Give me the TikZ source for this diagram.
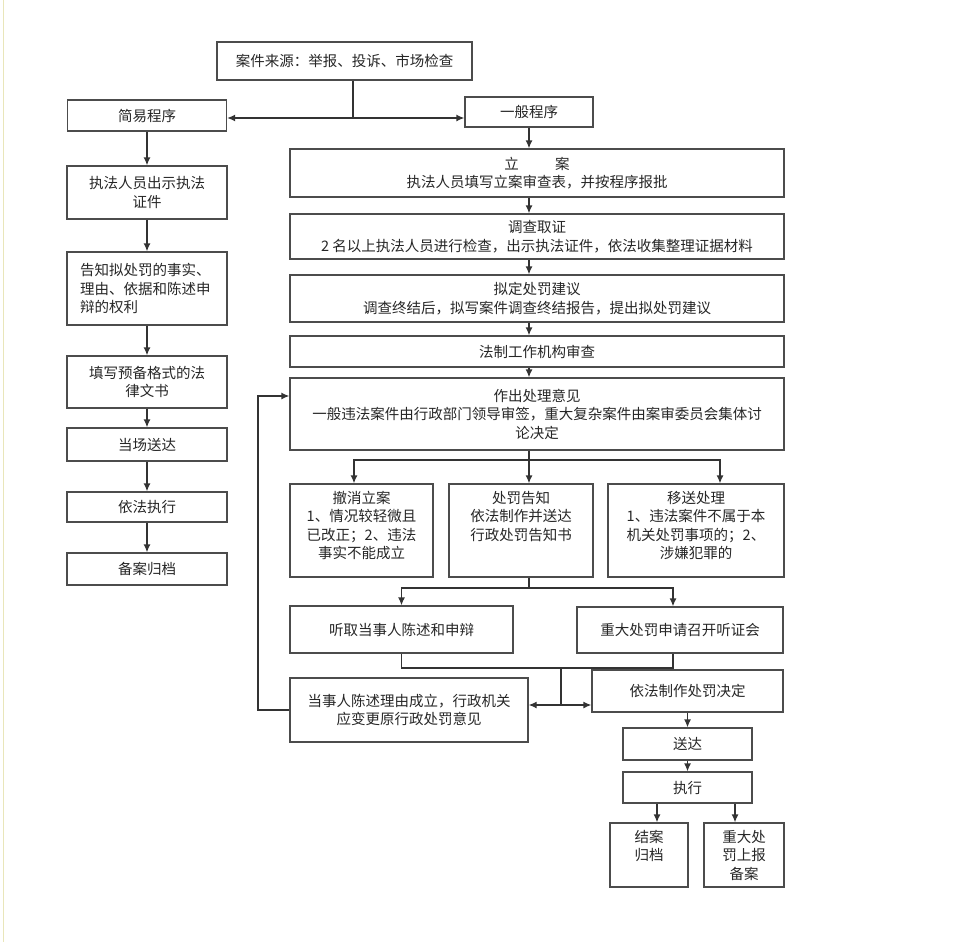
\documentclass[tikz,border=0pt]{standalone}
\usepackage{fontspec}
\newfontfamily\cjk{Noto Sans CJK SC}
\usetikzlibrary{arrows.meta}

\begin{document}
\begin{tikzpicture}[x=1pt, y=-1pt,
  box/.style={draw=black!70, line width=1.3pt, rectangle, inner sep=0pt, align=center,
    text=black!85, font=\cjk\fontsize{14.5}{18.5}\selectfont},
  line/.style={draw=black!80, line width=1.3pt},
  arr/.style={line, -{Latex[length=8pt,width=7pt]}}]
\useasboundingbox (0,0) rectangle (979,942);
\draw[olive!20, line width=1pt] (3,0) -- (3,942);

\node[box, minimum width=255, minimum height=38] (source) at (344.5,61) {案件来源：举报、投诉、市场检查};
\node[box, minimum width=159, minimum height=31] (simple) at (147,115.5) {简易程序};
\node[box, minimum width=128, minimum height=30] (general) at (529,112) {一般程序};

\node[box, minimum width=160, minimum height=53] (show) at (147,192.5) {执法人员出示执法\\证件};
\node[box, minimum width=160, minimum height=73, text width=134, align=left] (inform) at (147,288.5) {告知拟处罚的事实、\\理由、依据和陈述申\\辩的权利};
\node[box, minimum width=160, minimum height=52] (fill) at (147,382) {填写预备格式的法\\律文书};
\node[box, minimum width=160, minimum height=33] (spot) at (147,444.5) {当场送达};
\node[box, minimum width=160, minimum height=30] (execute) at (147,507) {依法执行};
\node[box, minimum width=160, minimum height=32] (archive) at (147,569) {备案归档};

\node[box, minimum width=494, minimum height=48] (filing) at (537,173) {立\hspace{2.5em}案\\执法人员填写立案审查表，并按程序报批};
\node[box, minimum width=494, minimum height=45] (investigate) at (537,236.5) {调查取证\\2 名以上执法人员进行检查，出示执法证件，依法收集整理证据材料};
\node[box, minimum width=494, minimum height=47] (propose) at (537,298.5) {拟定处罚建议\\调查终结后，拟写案件调查终结报告，提出拟处罚建议};
\node[box, minimum width=494, minimum height=31] (review) at (537,351.5) {法制工作机构审查};
\node[box, minimum width=494, minimum height=72] (decide) at (537,414) {作出处理意见\\一般违法案件由行政部门领导审签，重大复杂案件由案审委员会集体讨\\论决定};

\node[box, minimum width=143, minimum height=93] (revoke) at (361.5,530.5) {\parbox[c][79pt][t]{140pt}{\centering 撤消立案\\1、情况较轻微且\\已改正；2、违法\\事实不能成立}};
\node[box, minimum width=144, minimum height=93] (notify) at (521,530.5) {\parbox[c][79pt][t]{140pt}{\centering 处罚告知\\依法制作并送达\\行政处罚告知书}};
\node[box, minimum width=176, minimum height=93] (transfer) at (696,530.5) {\parbox[c][79pt][t]{172pt}{\centering 移送处理\\1、违法案件不属于本\\机关处罚事项的；2、\\涉嫌犯罪的}};

\node[box, minimum width=223, minimum height=47] (hear) at (401.5,629.5) {听取当事人陈述和申辩};
\node[box, minimum width=206, minimum height=46] (hearing) at (680,630) {重大处罚申请召开听证会};
\node[box, minimum width=238, minimum height=64] (accept) at (409,710) {当事人陈述理由成立，行政机关\\应变更原行政处罚意见};
\node[box, minimum width=191, minimum height=42] (decision) at (687.5,691) {依法制作处罚决定};
\node[box, minimum width=129, minimum height=32] (serve) at (687.5,744) {送达};
\node[box, minimum width=129, minimum height=31] (enforce) at (687.5,787.5) {执行};
\node[box, minimum width=78, minimum height=64] (close) at (649,855) {\parbox[c][50pt][t]{74pt}{\centering 结案\\归档}};
\node[box, minimum width=80, minimum height=64] (report) at (744,855) {\parbox[c][50pt][t]{76pt}{\centering 重大处\\罚上报\\备案}};

\coordinate (split) at (353,118);
\draw[line] (source.south -| split) -- (split);
\draw[arr] (split) -- (simple.east |- split);
\draw[arr] (split) -- (general.west |- split);

\foreach \a/\b in {simple/show, show/inform, inform/fill, fill/spot, spot/execute, execute/archive}
  \draw[arr] (\a) -- (\b);

\coordinate (ax) at (529,0);
\draw[arr] (general.south) -- (general.south |- filing.north);
\foreach \a/\b in {filing/investigate, investigate/propose, propose/review, review/decide}
  \draw[arr] (\a.south -| ax) -- (\b.north -| ax);

\coordinate (b1) at (529,460);
\coordinate (bl) at (354,460);
\coordinate (br) at (720,460);
\draw[line] (decide.south -| b1) -- (b1);
\draw[arr] (b1) -| (revoke.north -| bl);
\draw[arr] (b1) -- (notify.north -| b1);
\draw[arr] (b1) -| (transfer.north -| br);

\coordinate (b2) at (529,588);
\coordinate (c2) at (673,588);
\draw[line] (notify.south -| b2) -- (b2);
\draw[arr] (b2) -| (hear.north);
\draw[arr] (b2) -- (c2) -- (hearing.north -| c2);

\coordinate (m1) at (561,668);
\coordinate (m2) at (561,705);
\draw[line] (hear.south) |- (m1);
\draw[line] (hearing.south -| c2) |- (m1);
\draw[line] (m1) -- (m2);
\draw[arr] (m2) -- (accept.east |- m2);
\draw[arr] (m2) -- (decision.west |- m2);

\coordinate (fb1) at (258,710);
\coordinate (fb2) at (258,396);
\draw[arr] (accept.west) -- (fb1) -- (fb2) -- (decide.west |- fb2);

\draw[arr] (decision) -- (serve);
\draw[arr] (serve) -- (enforce);
\coordinate (e1) at (657,0);
\coordinate (e2) at (735,0);
\draw[arr] (enforce.south -| e1) -- (close.north -| e1);
\draw[arr] (enforce.south -| e2) -- (report.north -| e2);
\end{tikzpicture}
\end{document}
